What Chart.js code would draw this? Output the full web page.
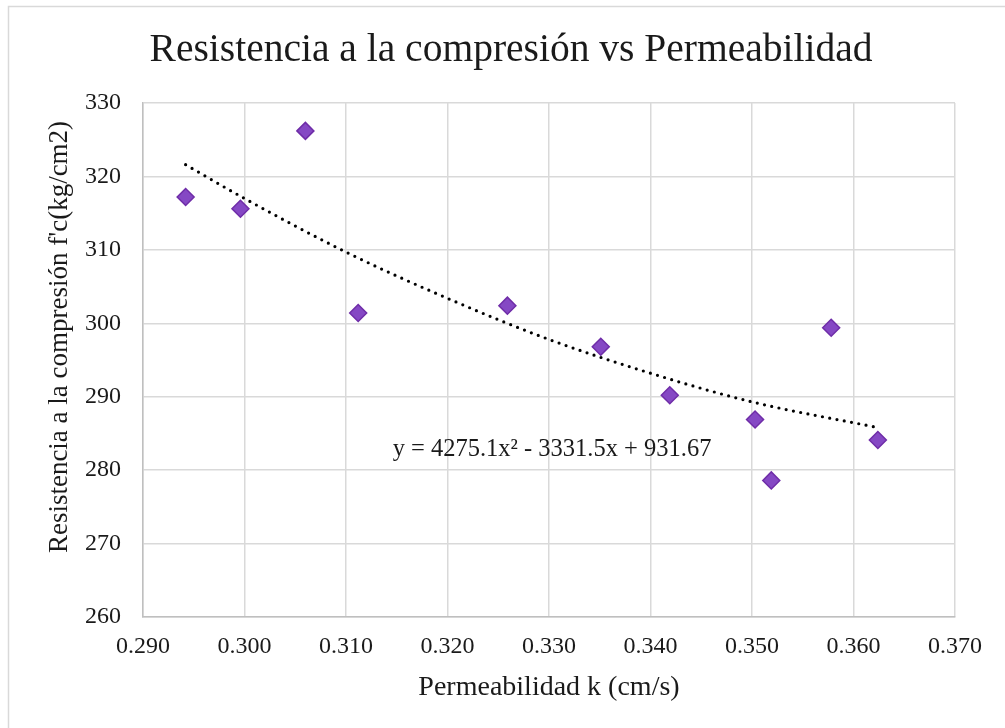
<!DOCTYPE html>
<html>
<head>
<meta charset="utf-8">
<script src="https://cdn.jsdelivr.net/npm/chart.js@4.4.1/dist/chart.umd.min.js"></script>
<style>
  html, body { margin: 0; padding: 0; background: #fff; }
  #wrap { position: relative; width: 1005px; height: 728px; }
</style>
</head>
<body>
<div id="wrap"><canvas id="c" width="1005" height="728"></canvas></div>
<script>
// ---- data ----
const permeability = [0.2942, 0.2996, 0.3060, 0.3112, 0.3259, 0.3351, 0.3419, 0.3503, 0.3519, 0.3578, 0.3624];
const strength     = [317.2, 315.6, 326.2, 301.4, 302.4, 296.8, 290.2, 286.9, 278.6, 299.4, 284.1];

// polynomial trendline as drawn
const trendX = [0.2942, 0.300, 0.310, 0.320, 0.330, 0.340, 0.350, 0.3624];
const trendY = [321.6, 317.0, 309.7, 303.4, 297.8, 293.2, 289.3, 285.8];

const xTicks = [0.290, 0.300, 0.310, 0.320, 0.330, 0.340, 0.350, 0.360, 0.370];
const yTicks = [260, 270, 280, 290, 300, 310, 320, 330];

const titleText = 'Resistencia a la compresión vs Permeabilidad';
const xTitle = 'Permeabilidad k (cm/s)';
const yTitle = "Resistencia a la compresión f'c(kg/cm2)";
const equationText = 'y = 4275.1x² - 3331.5x + 931.67';
const equationAnchor = { x: 0.3303, y: 282.8 };

const FONT = "'Liberation Serif', 'Times New Roman', serif";
const TEXT = '#1a1a1a';

const framePlugin = {
  id: 'frame',
  beforeDraw(chart) {
    const ctx = chart.ctx;
    ctx.save();
    ctx.fillStyle = '#ffffff';
    ctx.fillRect(0, 0, chart.width, chart.height);
    ctx.strokeStyle = '#d9d9d9';
    ctx.lineWidth = 1.5;
    ctx.strokeRect(8.5, 6.5, chart.width + 20, chart.height + 20);
    ctx.restore();
  },
  afterDraw(chart) {
    const ctx = chart.ctx;
    const xs = chart.scales.x, ys = chart.scales.y;
    // chart title
    ctx.save();
    ctx.fillStyle = TEXT;
    ctx.font = '39.5px ' + FONT;
    ctx.textAlign = 'center';
    ctx.textBaseline = 'alphabetic';
    ctx.fillText(titleText, 511, 61);
    ctx.restore();
    // y axis title
    ctx.save();
    ctx.fillStyle = TEXT;
    ctx.font = '27px ' + FONT;
    ctx.textAlign = 'center';
    ctx.textBaseline = 'middle';
    ctx.translate(60, 337);
    ctx.rotate(-Math.PI / 2);
    ctx.fillText(yTitle, 0, 0);
    ctx.restore();
    // equation label anchored to data coordinates
    ctx.save();
    ctx.fillStyle = TEXT;
    ctx.font = '24.5px ' + FONT;
    ctx.textAlign = 'center';
    ctx.textBaseline = 'middle';
    ctx.fillText(equationText, xs.getPixelForValue(equationAnchor.x), ys.getPixelForValue(equationAnchor.y));
    ctx.restore();
  }
};

const scatterPoints = permeability.map((x, i) => ({ x, y: strength[i] }));
const trendPoints = trendX.map((x, i) => ({ x, y: trendY[i] }));

new Chart(document.getElementById('c'), {
  type: 'scatter',
  data: {
    datasets: [
      {
        label: 'Datos',
        data: scatterPoints,
        pointStyle: 'rectRot',
        pointRadius: 8.5,
        pointHoverRadius: 8.5,
        backgroundColor: '#8548c4',
        borderColor: '#6f2da8',
        borderWidth: 1.5,
        order: 1
      },
      {
        label: 'Tendencia',
        data: trendPoints,
        showLine: true,
        pointRadius: 0,
        borderColor: '#000000',
        borderWidth: 3.2,
        borderDash: [0, 7.4],
        borderCapStyle: 'round',
        cubicInterpolationMode: 'monotone',
        fill: false,
        order: 2
      }
    ]
  },
  options: {
    responsive: false,
    animation: false,
    events: [],
    layout: { padding: { left: 18, right: 50, top: 103, bottom: 0 } },
    plugins: {
      legend: { display: false },
      tooltip: { enabled: false },
      title: { display: false }
    },
    scales: {
      x: {
        type: 'linear',
        min: 0.290,
        max: 0.370,
        afterBuildTicks(scale) { scale.ticks = xTicks.map(v => ({ value: v })); },
        afterFit(scale) { scale.height = 111; },
        grid: { color: '#d9d9d9', lineWidth: 1.5, drawTicks: false },
        border: { color: '#bfbfbf', width: 1.5 },
        ticks: {
          padding: 15,
          color: TEXT,
          font: { family: FONT, size: 24 },
          callback: v => Number(v).toFixed(3)
        },
        title: {
          display: true,
          text: xTitle,
          color: TEXT,
          font: { family: FONT, size: 28 },
          padding: { top: 0, bottom: 23.2 }
        }
      },
      y: {
        type: 'linear',
        min: 260,
        max: 330,
        afterBuildTicks(scale) { scale.ticks = yTicks.map(v => ({ value: v })); },
        afterFit(scale) { scale.width = 125; },
        grid: { color: '#d9d9d9', lineWidth: 1.5, drawTicks: false },
        border: { color: '#bfbfbf', width: 1.5 },
        ticks: {
          padding: 22,
          color: TEXT,
          font: { family: FONT, size: 24 },
          callback: v => String(v)
        }
      }
    }
  },
  plugins: [framePlugin]
});
</script>
</body>
</html>
